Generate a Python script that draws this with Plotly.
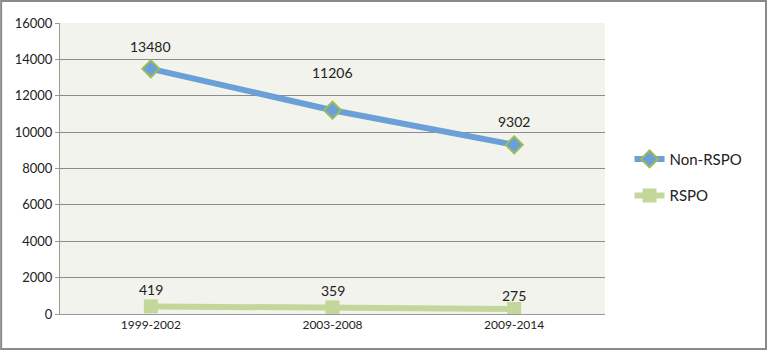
import plotly.graph_objects as go

categories = ["1999-2002", "2003-2008", "2009-2014"]
non_rspo = [13480, 11206, 9302]
rspo = [419, 359, 275]
y_ticks = [0, 2000, 4000, 6000, 8000, 10000, 12000, 14000, 16000]

FONT = "Lato, Open Sans, sans-serif"
non_label_shift = [22, 38, 23]
rspo_label_shift = [17, 17, 14]

fig = go.Figure()
fig.add_trace(go.Scatter(
    x=categories, y=non_rspo, name="Non-RSPO", mode="lines+markers",
    legendgroup="a",
    line=dict(color="#6A9FD8", width=6),
    marker=dict(symbol="diamond", size=13, color="#6A9FD8",
                line=dict(color="#9BBB59", width=2)),
))
fig.add_trace(go.Scatter(
    x=categories, y=rspo, name="RSPO", mode="lines+markers",
    legendgroup="b",
    line=dict(color="#C4D79B", width=6),
    marker=dict(symbol="square", size=14, color="#C4D79B"),
))

for series, shifts in ((non_rspo, non_label_shift), (rspo, rspo_label_shift)):
    for c, v, s in zip(categories, series, shifts):
        fig.add_annotation(x=c, y=v, text=str(v), showarrow=False,
                           yshift=s, font=dict(size=14, color="#222", family=FONT))

fig.update_layout(
    width=768, height=351,
    margin=dict(l=60, r=163, t=23, b=37),
    paper_bgcolor="white", plot_bgcolor="#F1F3EC",
    font=dict(family=FONT, size=12, color="#222"),
    showlegend=True,
    legend=dict(x=1.045, y=0.47, xanchor="left", yanchor="middle",
                font=dict(size=15, family=FONT), bgcolor="rgba(0,0,0,0)",
                tracegroupgap=14, itemwidth=30),
    xaxis=dict(type="category", range=[-0.5, 2.5], showgrid=False,
               showline=True, linecolor="#999", linewidth=1,
               ticks="", tickfont=dict(size=12), zeroline=False),
    yaxis=dict(range=[0, 16000], tickvals=y_ticks,
               ticktext=[str(v) for v in y_ticks], showgrid=True,
               gridcolor="#8C8C8C", gridwidth=1, showline=True,
               linecolor="#999", linewidth=1, ticks="outside", ticklen=4,
               tickcolor="#999", tickfont=dict(size=13), zeroline=False),
    shapes=[dict(type="rect", xref="paper", yref="paper",
                 x0=-0.108, x1=1.2954, y0=-0.1203, y1=1.0756,
                 line=dict(color="#8A8A8A", width=2), layer="below")],
)

fig.write_html("out.html")
